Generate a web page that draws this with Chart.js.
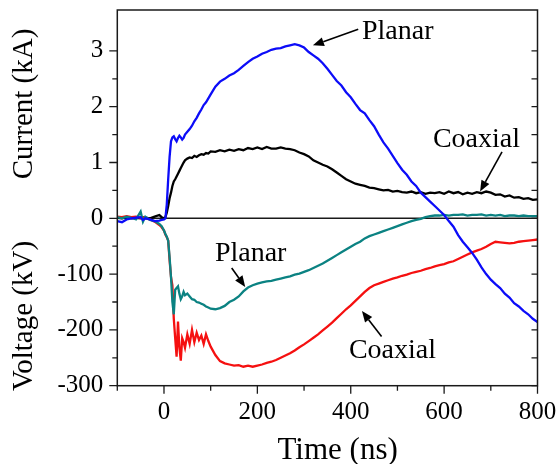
<!DOCTYPE html>
<html>
<head>
<meta charset="utf-8">
<title>Current and voltage waveforms</title>
<script src="https://cdn.jsdelivr.net/npm/chart.js@4/dist/chart.umd.min.js"></script>
<style>
  html, body { margin: 0; padding: 0; background: #fff; }
  canvas { display: block; }
</style>
</head>
<body>
<canvas id="c" width="558" height="464"></canvas>
<script>
// Sampling instants (ns), shared by all four traces
const timeNs = [
  -100, -90, -80, -70, -60, -50, -45, -40, -30, -20, -10, -5,
  0, 3, 6, 9, 12, 15, 18, 21, 24, 27, 30, 33, 36, 39, 42, 45,
  50, 55, 60, 65, 70, 75, 80, 85, 90, 95, 100, 110,
  120, 130, 140, 150, 160, 170, 180, 190, 200, 210,
  220, 230, 240, 250, 260, 270, 280, 290, 300, 310,
  320, 330, 340, 350, 360, 370, 380, 390, 400, 410,
  420, 430, 440, 450, 460, 470, 480, 490, 500, 510,
  520, 530, 540, 550, 560, 570, 580, 590, 600, 610,
  620, 630, 640, 650, 660, 670, 680, 690, 700, 710,
  720, 730, 740, 750, 760, 770, 780, 790, 800
];

// Current, planar electrode (kA)
const planarCurrent = [
  -0.05, -0.07, -0.02, 0.00, 0.01, 0.02, -0.03, 0.00, -0.02, -0.05, -0.04, -0.03,
  -0.02, 0.00, 0.25, 0.70, 1.10, 1.38, 1.45, 1.47, 1.42, 1.38, 1.44, 1.48, 1.45, 1.41, 1.44, 1.50,
  1.55, 1.60, 1.66, 1.74, 1.80, 1.88, 1.95, 2.03, 2.08, 2.15, 2.22, 2.36,
  2.45, 2.50, 2.56, 2.60, 2.66, 2.73, 2.80, 2.86, 2.90, 2.95,
  2.98, 3.02, 3.04, 3.05, 3.08, 3.10, 3.12, 3.10, 3.06, 2.98,
  2.92, 2.86, 2.78, 2.68, 2.57, 2.46, 2.38, 2.26, 2.17, 2.05,
  1.94, 1.88, 1.76, 1.65, 1.50, 1.36, 1.25, 1.12, 0.99, 0.87,
  0.78, 0.66, 0.58, 0.46, 0.38, 0.30, 0.22, 0.14, 0.06, -0.05,
  -0.15, -0.30, -0.42, -0.52, -0.62, -0.74, -0.88, -1.00, -1.10, -1.18,
  -1.25, -1.35, -1.42, -1.52, -1.58, -1.66, -1.72, -1.80, -1.86
];

// Current, coaxial electrode (kA)
const coaxialCurrent = [
  0.01, 0.00, 0.02, 0.00, 0.01, 0.00, 0.02, 0.01, 0.00, 0.03, 0.06, 0.02,
  0.00, 0.02, 0.10, 0.22, 0.36, 0.46, 0.58, 0.66, 0.70, 0.75, 0.80, 0.85, 0.90, 0.95, 1.00, 1.04,
  1.07, 1.09, 1.08, 1.12, 1.10, 1.13, 1.15, 1.14, 1.17, 1.16, 1.20, 1.19,
  1.22, 1.20, 1.23, 1.21, 1.24, 1.22, 1.26, 1.24, 1.27, 1.24,
  1.28, 1.25, 1.25, 1.27, 1.25, 1.24, 1.22, 1.18, 1.15, 1.11,
  1.04, 1.00, 0.96, 0.93, 0.88, 0.82, 0.76, 0.70, 0.66, 0.62,
  0.60, 0.58, 0.55, 0.54, 0.52, 0.50, 0.51, 0.48, 0.49, 0.47,
  0.46, 0.48, 0.45, 0.47, 0.44, 0.46, 0.45, 0.47, 0.44, 0.48,
  0.45, 0.47, 0.43, 0.46, 0.44, 0.47, 0.45, 0.48, 0.46, 0.42,
  0.43, 0.39, 0.41, 0.37, 0.38, 0.35, 0.36, 0.33, 0.34
];

// Voltage, planar electrode (kV)
const planarVoltage = [
  2, 0, 3, 1, -2, 12, -6, 3, -3, -5, -10, -14,
  -22, -28, -33, -40, -70, -105, -150, -172, -128, -125, -122, -135, -145, -140, -132, -138,
  -135, -140, -145, -146, -150, -151, -153, -155, -158, -160, -162, -163,
  -161, -157, -150, -146, -140, -131, -124, -120, -117, -115,
  -113, -112, -110, -108, -106, -104, -101, -99, -96, -93,
  -89, -85, -81, -76, -71, -66, -61, -56, -51, -46,
  -42, -36, -32, -29, -26, -23, -20, -17, -14, -11,
  -8, -5, -3, -1, 2, 4, 5, 5, 6, 5,
  6, 6, 7, 5, 6, 6, 7, 5, 6, 5,
  6, 4, 5, 5, 4, 5, 4, 4, 4
];

// Voltage, coaxial electrode (kV)
const coaxialVoltage = [
  3, 2, 4, 2, 3, 1, 2, 0, -2, -6, -12, -16,
  -22, -29, -34, -40, -75, -105, -120, -180, -215, -248, -185, -232, -255, -215, -222, -232,
  -208, -225, -200, -222, -205, -218, -210, -225, -208, -220, -230, -245,
  -256, -260, -262, -264, -263, -266, -264, -266, -264, -262,
  -259, -257, -254, -250, -246, -242, -237, -231, -226, -220,
  -214, -208, -201, -194, -187, -179, -171, -163, -156, -148,
  -140, -132, -125, -120, -117, -114, -111, -108, -106, -103,
  -101, -98, -96, -94, -91, -89, -86, -84, -82, -79,
  -77, -73, -69, -65, -61, -58, -55, -51, -46, -42,
  -43, -44, -45, -44, -42, -41, -40, -39, -38
];

// Labelled ticks
const timeTickLabels = [0, 200, 400, 600, 800];
const currentTickLabels = [0, 1, 2, 3];
const voltageTickLabels = [-100, -200, -300];

// Axis limits: 1 kA on the current scale spans the same height as 100 kV
const timeRange = [-100, 800];
const currentRange = [-3, 3.7334];
const voltageRange = [-300, 373.34];

const SERIF = "'Liberation Serif', 'Times New Roman', serif";
const INK = '#1a1a1a';

function series(values) {
  return timeNs.map((t, i) => ({ x: t, y: values[i] }));
}

// Text labels with arrows, positioned in data units
const callouts = [
  { text: 'Planar', axis: 'y',  at: [424, 3.21], from: [416, 3.39], to: [319, 3.10] },
  { text: 'Coaxial', axis: 'y', at: [576, 1.28], from: [724, 1.19], to: [677, 0.48] },
  { text: 'Planar', axis: 'yV', at: [109, -77],  from: [145, -89],  to: [174, -123] },
  { text: 'Coaxial', axis: 'yV', at: [396, -250], from: [466, -212], to: [424, -166] }
];

const decorations = {
  id: 'decorations',
  beforeDatasetsDraw(chart) {
    const { ctx, chartArea: a, scales: { y } } = chart;
    const y0 = y.getPixelForValue(0);
    ctx.save();
    ctx.strokeStyle = INK;
    ctx.lineWidth = 1.5;
    ctx.beginPath();
    ctx.moveTo(a.left, y0);
    ctx.lineTo(a.right, y0);
    ctx.stroke();
    ctx.restore();
  },
  afterDatasetsDraw(chart) {
    const { ctx, chartArea: a, scales } = chart;
    const { x, y } = scales;
    ctx.save();
    ctx.strokeStyle = INK;
    ctx.lineWidth = 1.5;
    ctx.strokeRect(a.left, a.top, a.right - a.left, a.bottom - a.top);

    // tick marks: outward on left and bottom, inward on right
    ctx.lineWidth = 1.3;
    ctx.beginPath();
    y.ticks.forEach(t => {
      const h = Math.round(t.value * 2);
      if (Math.abs(t.value * 2 - h) > 1e-6) return;
      const py = y.getPixelForValue(t.value);
      const len = (h % 2 === 0) ? 8 : 5;
      ctx.moveTo(a.left - len, py); ctx.lineTo(a.left, py);
      ctx.moveTo(a.right - 6, py); ctx.lineTo(a.right, py);
    });
    x.ticks.forEach(t => {
      const px = x.getPixelForValue(t.value);
      const len = (t.value % 200 === 0) ? 8 : 5;
      ctx.moveTo(px, a.bottom); ctx.lineTo(px, a.bottom + len);
    });
    ctx.stroke();

    // callouts
    ctx.fillStyle = '#000';
    ctx.strokeStyle = '#000';
    ctx.font = '28px ' + SERIF;
    ctx.textBaseline = 'alphabetic';
    ctx.textAlign = 'left';
    callouts.forEach(c => {
      const ys = scales[c.axis];
      ctx.fillText(c.text, x.getPixelForValue(c.at[0]), ys.getPixelForValue(c.at[1]));
      const x1 = x.getPixelForValue(c.from[0]), y1 = ys.getPixelForValue(c.from[1]);
      const x2 = x.getPixelForValue(c.to[0]), y2 = ys.getPixelForValue(c.to[1]);
      const ang = Math.atan2(y2 - y1, x2 - x1);
      const head = 11, half = 4.5;
      const bx = x2 - head * Math.cos(ang), by = y2 - head * Math.sin(ang);
      ctx.lineWidth = 1.6;
      ctx.beginPath();
      ctx.moveTo(x1, y1); ctx.lineTo(bx, by);
      ctx.stroke();
      ctx.beginPath();
      ctx.moveTo(x2, y2);
      ctx.lineTo(bx + half * Math.sin(ang), by - half * Math.cos(ang));
      ctx.lineTo(bx - half * Math.sin(ang), by + half * Math.cos(ang));
      ctx.closePath();
      ctx.fill();
    });

    // axis titles
    ctx.font = '29px ' + SERIF;
    ctx.textAlign = 'center';
    ctx.textBaseline = 'middle';
    const titleX = 24;
    [['Current (kA)', y.getPixelForValue(2.05)], ['Voltage (kV)', y.getPixelForValue(-1.75)]].forEach(([txt, cy]) => {
      ctx.save();
      ctx.translate(titleX, cy);
      ctx.rotate(-Math.PI / 2);
      ctx.fillText(txt, 0, 0);
      ctx.restore();
    });
    ctx.font = '31px ' + SERIF;
    ctx.textBaseline = 'alphabetic';
    ctx.fillText('Time (ns)', x.getPixelForValue(372), 459);
    ctx.restore();
  }
};

const lineStyle = { borderWidth: 2.3, pointRadius: 0, tension: 0, fill: false };

new Chart(document.getElementById('c'), {
  type: 'line',
  data: {
    datasets: [
      { label: 'Planar current', data: series(planarCurrent), borderColor: '#0c0cf8', yAxisID: 'y', ...lineStyle },
      { label: 'Planar voltage', data: series(planarVoltage), borderColor: '#0b8282', yAxisID: 'yV', ...lineStyle },
      { label: 'Coaxial voltage', data: series(coaxialVoltage), borderColor: '#f51010', yAxisID: 'yV', ...lineStyle },
      { label: 'Coaxial current', data: series(coaxialCurrent), borderColor: '#000000', yAxisID: 'y', ...lineStyle }
    ]
  },
  options: {
    responsive: false,
    animation: false,
    devicePixelRatio: 1,
    layout: { padding: { top: 10, right: 20.5, left: 0, bottom: 0 } },
    plugins: { legend: { display: false }, tooltip: { enabled: false } },
    scales: {
      x: {
        type: 'linear',
        min: timeRange[0], max: timeRange[1],
        grid: { display: false, drawTicks: false },
        border: { display: false },
        afterFit(s) { s.height = 78.3; s.paddingLeft = 0; s.paddingRight = 0; },
        ticks: {
          stepSize: 100, autoSkip: false, maxRotation: 0, padding: 12,
          color: '#000', font: { family: SERIF, size: 25 },
          callback: v => timeTickLabels.includes(v) ? String(v) : ''
        }
      },
      y: {
        type: 'linear',
        position: 'left',
        min: currentRange[0], max: currentRange[1],
        grid: { display: false, drawTicks: false },
        border: { display: false },
        afterFit(s) { s.width = 117.3; s.paddingTop = 0; s.paddingBottom = 0; },
        ticks: {
          stepSize: 0.5, autoSkip: false, padding: 14,
          color: '#000', font: { family: SERIF, size: 25 },
          callback: v => {
            if (v >= 0) return currentTickLabels.includes(v) ? String(v) : '';
            const kv = Math.round(v * 100);
            return (Math.abs(v * 100 - kv) < 1e-6 && voltageTickLabels.includes(kv)) ? String(kv) : '';
          }
        }
      },
      yV: {
        type: 'linear',
        display: false,
        min: voltageRange[0], max: voltageRange[1]
      }
    }
  },
  plugins: [decorations]
});
</script>
</body>
</html>
